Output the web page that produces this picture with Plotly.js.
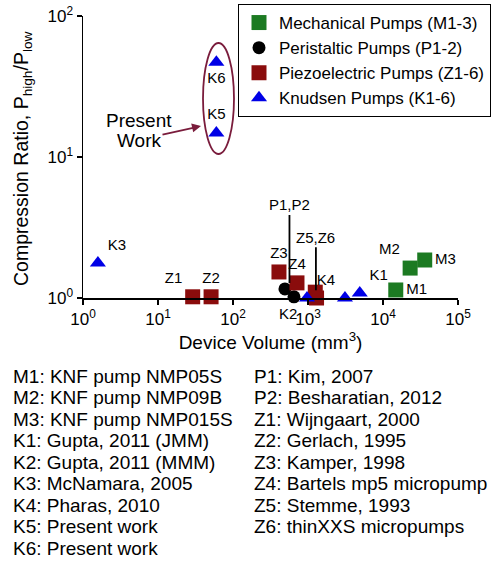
<!DOCTYPE html>
<html>
<head>
<meta charset="utf-8">
<script src="https://cdn.plot.ly/plotly-3.0.1.min.js"></script>
<style>html,body{margin:0;padding:0;background:#fff;}#chart{width:491px;height:562px;}</style>
</head>
<body>
<div id="chart"></div>
<script>
// ---- data ----
var mechNames = ['M1', 'M2', 'M3'];
var mechVolume = [14800, 23000, 36000];
var mechRatio = [1.14, 1.63, 1.86];

var periNames = ['P1', 'P2'];
var periVolume = [493, 650];
var periRatio = [1.16, 1.02];

var piezoNames = ['Z1', 'Z2', 'Z3', 'Z4', 'Z5', 'Z6'];
var piezoVolume = [29, 51, 410, 713, 1250, 1300];
var piezoRatio = [1.02, 1.02, 1.53, 1.28, 1.10, 1.0];

var knudNames = ['K1', 'K2', 'K3', 'K4', 'K5', 'K6'];
var knudVolume = [4900, 970, 1.58, 3110, 60, 60];
var knudRatio = [1.085, 1.0, 1.77, 1.0, 14.8, 47];

var seriesNames = ['Mechanical Pumps (M1-3)', 'Peristaltic Pumps (P1-2)', 'Piezoelectric Pumps (Z1-6)', 'Knudsen Pumps (K1-6)'];
var xTickVals = [1, 10, 100, 1000, 10000, 100000];
var xTickText = ['10<sup>0</sup>', '10<sup>1</sup>', '10<sup>2</sup>', '10<sup>3</sup>', '10<sup>4</sup>', '10<sup>5</sup>'];
var yTickVals = [1, 10, 100];
var yTickText = ['10<sup>0</sup>', '10<sup>1</sup>', '10<sup>2</sup>'];

var refsLeft = ['M1: KNF pump NMP05S', 'M2: KNF pump NMP09B', 'M3: KNF pump NMP015S',
  'K1: Gupta, 2011 (JMM)', 'K2: Gupta, 2011 (MMM)', 'K3: McNamara, 2005',
  'K4: Pharas, 2010', 'K5: Present work', 'K6: Present work'];
var refsRight = ['P1: Kim, 2007', 'P2: Besharatian, 2012', 'Z1: Wijngaart, 2000',
  'Z2: Gerlach, 1995', 'Z3: Kamper, 1998', 'Z4: Bartels mp5 micropump',
  'Z5: Stemme, 1993', 'Z6: thinXXS micropumps'];

// ---- styling ----
var FONT = 'Liberation Sans, Arial, Helvetica, sans-serif';
var cGreen = '#1c7a22', cBlack = '#000000', cRed = '#8a0c0c', cBlue = '#0000e6', cMaroon = '#7a1c3c';
var labelFont = {family: FONT, size: 15, color: '#000'};

var traces = [
  {x: mechVolume, y: mechRatio, name: seriesNames[0], mode: 'markers+text', type: 'scatter',
   text: mechNames, textposition: ['middle right', 'top left', 'middle right'], textfont: labelFont,
   marker: {symbol: 'square', size: 15, color: cGreen}, cliponaxis: false},
  {x: periVolume, y: periRatio, name: seriesNames[1], mode: 'markers', type: 'scatter',
   marker: {symbol: 'circle', size: 13, color: cBlack}, cliponaxis: false},
  {x: piezoVolume, y: piezoRatio, name: seriesNames[2], mode: 'markers+text', type: 'scatter',
   text: piezoNames.map(function (n, i) { return i < 4 ? n : ''; }),
   textposition: ['top left', 'top center', 'top center', 'top center', 'top center', 'top center'], textfont: labelFont,
   marker: {symbol: 'square', size: 15, color: cRed}, cliponaxis: false},
  {x: knudVolume, y: knudRatio, name: seriesNames[3], mode: 'markers+text', type: 'scatter',
   text: knudNames, textposition: ['top right', 'bottom left', 'top right', 'top left', 'top center', 'bottom center'], textfont: labelFont,
   marker: {symbol: 'triangle-up', size: 14, color: cBlue}, cliponaxis: false}
];

// plot area in pixels: left 83, right 458, top 16, bottom 298
var L = 83, R = 458, T = 16, B = 298;
function px(xp) { return (xp - L) / (R - L); }
function py(yp) { return (B - yp) / (B - T); }
function geo(a) { return Math.sqrt(a[0] * a[1]); }

var annotations = [];
// y axis title
annotations.push({xref: 'paper', yref: 'paper', x: px(22), y: py(159), textangle: -90,
  text: 'Compression Ratio, P<sub>high</sub>/P<sub>low</sub>', showarrow: false,
  font: {family: FONT, size: 19.5, color: '#000'}, xanchor: 'center', yanchor: 'middle'});
// group labels with vertical lines
annotations.push({xref: 'x', yref: 'y', x: Math.log10(geo(periVolume)), y: Math.log10(Math.max.apply(null, periRatio)),
  text: 'P1,P2', showarrow: true, arrowhead: 0, arrowwidth: 1.8, arrowcolor: '#000', ax: 0, ay: -84, standoff: 6,
  font: labelFont});
annotations.push({xref: 'x', yref: 'y', x: Math.log10(geo(piezoVolume.slice(4))), y: Math.log10(Math.max.apply(null, piezoRatio.slice(4))),
  text: 'Z5,Z6', showarrow: true, arrowhead: 0, arrowwidth: 1.8, arrowcolor: '#000', ax: 0, ay: -55, standoff: 2,
  font: labelFont});
// Present Work
annotations.push({xref: 'paper', yref: 'paper', x: px(139), y: py(120), text: 'Present', showarrow: false,
  xanchor: 'center', yanchor: 'middle', font: {family: FONT, size: 19, color: '#000'}});
annotations.push({xref: 'paper', yref: 'paper', x: px(201), y: py(126), text: 'Work', showarrow: true,
  ax: -62, ay: 14, arrowhead: 2, arrowsize: 1, arrowwidth: 1.8, arrowcolor: cMaroon, standoff: 0,
  font: {family: FONT, size: 19, color: '#000'}});
// reference list
refsLeft.forEach(function (t, i) {
  annotations.push({xref: 'paper', yref: 'paper', x: px(11), y: py(376 + 21.5 * i), text: t, showarrow: false,
    xanchor: 'left', yanchor: 'middle', font: {family: FONT, size: 19, color: '#000'}});
});
refsRight.forEach(function (t, i) {
  annotations.push({xref: 'paper', yref: 'paper', x: px(252), y: py(376 + 21.5 * i), text: t, showarrow: false,
    xanchor: 'left', yanchor: 'middle', font: {family: FONT, size: 19, color: '#000'}});
});

var layout = {
  width: 491, height: 562,
  margin: {l: L, r: 491 - R, t: T, b: 562 - B, autoexpand: false},
  paper_bgcolor: '#fff', plot_bgcolor: '#fff',
  font: {family: FONT, color: '#000'},
  showlegend: true,
  legend: {x: px(238), y: py(4), xanchor: 'left', yanchor: 'top', bgcolor: '#fff',
    bordercolor: '#000', borderwidth: 1, font: {family: FONT, size: 17, color: '#000'}, tracegroupgap: 0},
  xaxis: {type: 'log', range: [0, 5], showgrid: false, zeroline: false, showline: true, linecolor: '#000', linewidth: 1.5,
    ticks: 'outside', ticklen: 5, tickwidth: 1.5, tickcolor: '#000', tickvals: xTickVals, ticktext: xTickText,
    tickfont: {family: FONT, size: 17, color: '#000'},
    title: {text: 'Device Volume (mm<sup>3</sup>)', font: {family: FONT, size: 19, color: '#000'}, standoff: 6}},
  yaxis: {type: 'log', range: [0, 2], showgrid: false, zeroline: false, showline: true, linecolor: '#000', linewidth: 1.5,
    ticks: 'outside', ticklen: 5, tickwidth: 1.5, tickcolor: '#000', tickvals: yTickVals, ticktext: yTickText,
    tickfont: {family: FONT, size: 17, color: '#000'}},
  shapes: [
    {type: 'circle', xref: 'paper', yref: 'paper', x0: px(203), x1: px(234), y0: py(154), y1: py(43),
     line: {color: cMaroon, width: 1.8}, fillcolor: 'rgba(0,0,0,0)'}
  ],
  annotations: annotations
};

Plotly.newPlot('chart', traces, layout, {displayModeBar: false, staticPlot: true});
</script>
</body>
</html>
